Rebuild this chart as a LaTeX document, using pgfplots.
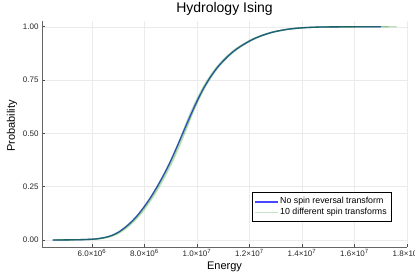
\documentclass[border=0pt]{standalone}
\usepackage{fontspec}
\setmainfont{Liberation Sans}
\usepackage{pgfplots}
\pgfplotsset{compat=1.18}
\usepackage{pgfplotstable}
\definecolor{jblue}{RGB}{0,0,255}
\definecolor{jgreen}{RGB}{0,128,0}

\pgfplotstableread{
E p
4.50e6 0
5.00e6 0.0004
5.50e6 0.0012
6.00e6 0.0035
6.25e6 0.0065
6.50e6 0.012
6.75e6 0.021
7.00e6 0.036
7.25e6 0.058
7.50e6 0.085
7.75e6 0.118
8.00e6 0.158
8.25e6 0.203
8.50e6 0.254
8.75e6 0.310
9.00e6 0.372
9.25e6 0.441
9.50e6 0.513
9.75e6 0.584
10.00e6 0.651
10.25e6 0.711
10.50e6 0.762
10.75e6 0.805
11.00e6 0.840
11.25e6 0.870
11.50e6 0.895
11.75e6 0.915
12.00e6 0.933
12.25e6 0.948
12.50e6 0.960
12.75e6 0.970
13.00e6 0.978
13.50e6 0.989
14.00e6 0.995
14.50e6 0.998
15.00e6 0.9993
16.00e6 0.9998
17.00e6 1.0
}\blueT

\pgfplotstableread{
E p
4.55e6 0
5.08e6 0.0004
5.58e6 0.0012
6.08e6 0.0035
6.33e6 0.0065
6.58e6 0.012
6.83e6 0.021
7.08e6 0.036
7.33e6 0.058
7.58e6 0.085
7.83e6 0.118
8.08e6 0.158
8.33e6 0.203
8.58e6 0.254
8.83e6 0.310
9.08e6 0.372
9.33e6 0.441
9.57e6 0.513
9.79e6 0.584
10.02e6 0.651
10.25e6 0.711
10.50e6 0.762
10.75e6 0.805
11.00e6 0.840
11.25e6 0.870
11.50e6 0.895
11.75e6 0.915
12.00e6 0.933
12.25e6 0.948
12.50e6 0.960
12.75e6 0.970
13.00e6 0.978
13.50e6 0.989
14.00e6 0.995
14.50e6 0.998
15.00e6 0.9993
16.00e6 0.9998
17.60e6 1.0
}\greenA

\pgfplotstableread{
E p
4.50e6 0
5.00e6 0.0004
5.50e6 0.0012
6.00e6 0.0035
6.25e6 0.0065
6.50e6 0.012
6.75e6 0.021
7.00e6 0.036
7.25e6 0.058
7.50e6 0.085
7.75e6 0.118
8.00e6 0.158
8.25e6 0.203
8.50e6 0.254
8.75e6 0.310
9.00e6 0.372
9.25e6 0.441
9.48e6 0.513
9.71e6 0.584
9.96e6 0.651
10.21e6 0.711
10.46e6 0.762
10.71e6 0.805
10.96e6 0.840
11.21e6 0.870
11.46e6 0.895
11.71e6 0.915
11.96e6 0.933
12.21e6 0.948
12.46e6 0.960
12.71e6 0.970
12.96e6 0.978
13.46e6 0.989
13.96e6 0.995
14.46e6 0.998
14.96e6 0.9993
15.96e6 0.9998
17.30e6 1.0
}\greenB

\pgfplotstableread{
E p
4.53e6 0
5.03e6 0.0004
5.53e6 0.0012
6.03e6 0.0035
6.28e6 0.0065
6.53e6 0.012
6.78e6 0.021
7.03e6 0.036
7.28e6 0.058
7.53e6 0.085
7.78e6 0.118
8.03e6 0.158
8.28e6 0.203
8.53e6 0.254
8.78e6 0.310
9.03e6 0.372
9.28e6 0.441
9.53e6 0.513
9.78e6 0.584
10.03e6 0.651
10.28e6 0.711
10.53e6 0.762
10.78e6 0.805
11.03e6 0.840
11.28e6 0.870
11.53e6 0.895
11.78e6 0.915
12.03e6 0.933
12.28e6 0.948
12.53e6 0.960
12.78e6 0.970
13.03e6 0.978
13.53e6 0.989
14.03e6 0.995
14.53e6 0.998
15.03e6 0.9993
16.03e6 0.9998
16.90e6 1.0
}\greenC

\begin{document}
\begin{tikzpicture}
\begin{axis}[
  at={(42pt,30pt)}, anchor=south west,
  scale only axis, width=365pt, height=226pt,
  xmin=4.095e6, xmax=1.8e7,
  ymin=-0.033, ymax=1.027,
  axis lines=left,
  axis line style={-, draw=black!60, line width=0.8pt},
  tick align=inside,
  major tick length=3pt,
  tick style={black!70, line width=0.6pt},
  grid=major,
  major grid style={black!8, line width=0.4pt},
  scaled x ticks=false,
  xtick={6e6,8e6,1e7,1.2e7,1.4e7,1.6e7,1.8e7},
  xticklabels={6.0×10\textsuperscript{6},8.0×10\textsuperscript{6},1.0×10\textsuperscript{7},1.2×10\textsuperscript{7},1.4×10\textsuperscript{7},1.6×10\textsuperscript{7},1.8×10\textsuperscript{7}},
  ytick={0,0.25,0.5,0.75,1},
  yticklabels={0.00,0.25,0.50,0.75,1.00},
  ticklabel style={font=\fontsize{8}{9}\selectfont, text=black!85},
  xticklabel style={yshift=1pt},
  title={Hydrology Ising},
  title style={font=\fontsize{14}{16}\selectfont, at={(axis description cs:0.5,1.026)}, anchor=center},
  xlabel={Energy},
  xlabel style={font=\fontsize{11}{13}\selectfont, at={(axis description cs:0.5,-0.086)}, anchor=center},
  ylabel={Probability},
  ylabel style={font=\fontsize{11}{13}\selectfont, at={(axis description cs:-0.082,0.535)}, anchor=center, rotate=0},
  legend style={at={(axis description cs:0.575,0.112)}, anchor=south west,
    font=\fontsize{8.8}{10}\selectfont, draw=black, line width=0.7pt,
    inner xsep=3pt, inner ysep=3pt, row sep=-1pt, fill=white},
  legend cell align=left,
]
\addplot[jblue, opacity=0.75, line width=1.3pt, smooth, forget plot] table[x=E,y=p] {\blueT};
\addplot[jgreen, opacity=0.25, line width=1.4pt, smooth, forget plot] table[x=E,y=p] {\greenA};
\addplot[jgreen, opacity=0.25, line width=1.4pt, smooth, forget plot] table[x=E,y=p] {\greenB};
\addplot[jgreen, opacity=0.25, line width=1.4pt, smooth, forget plot] table[x=E,y=p] {\greenC};
\addlegendimage{legend image code/.code={\fill[fill=jblue, fill opacity=0.72, draw=none] (0pt,-1pt) rectangle (23pt,1pt);}}
\addlegendentry{No spin reversal transform}
\addlegendimage{legend image code/.code={\fill[fill=jgreen, fill opacity=0.22, draw=none] (0pt,-0.9pt) rectangle (23pt,0.9pt);}}
\addlegendentry{10 different spin transforms}
\end{axis}
\pgfresetboundingbox
\path[use as bounding box] (0,0) rectangle (415pt,277pt);
\end{tikzpicture}
\end{document}
